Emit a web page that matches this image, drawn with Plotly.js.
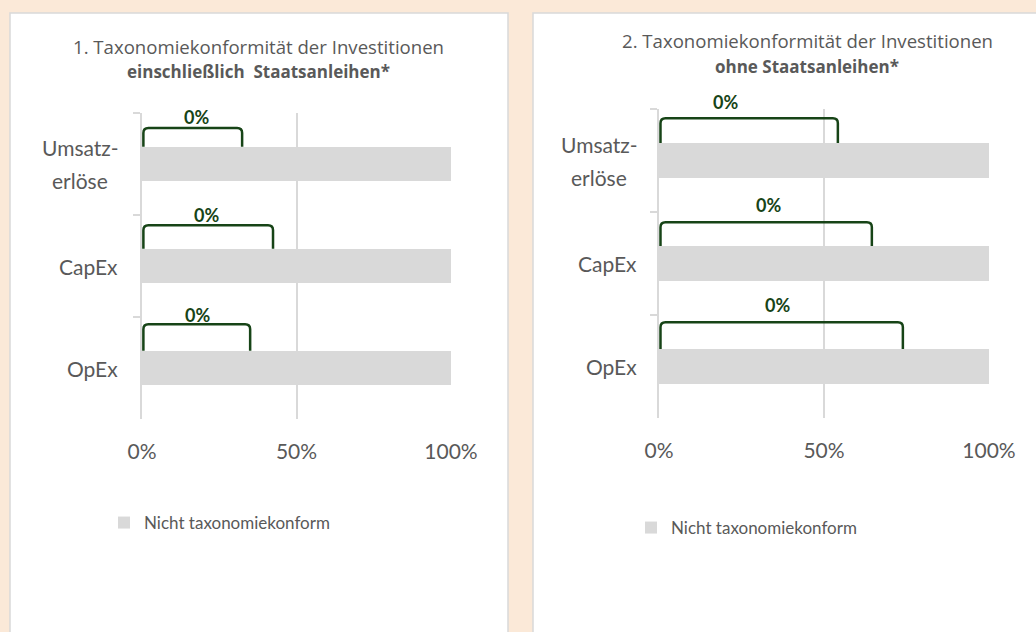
<!DOCTYPE html>
<html><head><meta charset="utf-8">
<script src="https://cdn.plot.ly/plotly-3.0.1.min.js"></script>
<style>html,body{margin:0;padding:0;background:#fbe9d8;}#chart{width:1036px;height:632px;}</style>
</head><body><div id="chart"></div>
<script>
// ---- data ----
const categories = ["Umsatzerlöse", "CapEx", "OpEx"];
const categoryLabels = ["Umsatz-<br>erlöse", "CapEx", "OpEx"];
const panelTitles = ["1. Taxonomiekonformität der Investitionen", "2. Taxonomiekonformität der Investitionen"];
const panelSubtitles = ["einschließlich  Staatsanleihen*", "ohne Staatsanleihen*"];
const seriesNames = ["Taxonomiekonform", "Nicht taxonomiekonform"];
const conformIncl = [0, 0, 0];
const nonConformIncl = [100, 100, 100];
const conformExcl = [0, 0, 0];
const nonConformExcl = [100, 100, 100];
const xTickVals = [0, 50, 100];
const xTickText = ["0%", "50%", "100%"];

// ---- layout constants ----
const W = 1036, H = 632;
const TXT = "#595959", GRID = "#d9d9d9", BAR = "#d9d9d9", GREEN = "#174417", BG = "#fbe9d8";
const FONT = "Lato, 'Open Sans', sans-serif";
const TITLE_FONT = "'Open Sans', Lato, sans-serif";
const BARW = 0.34;
const LABEL_SIZE = 21, LABEL_LINE = 33;
const panels = [
  {box:[10, 13, 508, 660], plotX:[142, 451], plotY:[113, 419], labelRight:118, titleX:258, titleY:[47, 72],
   legendTextX:144, legendY:523,
   calloutEnd:[32.4, 42.4, 35], calloutTop:[-0.353, -0.40, -0.43], labelX:[17.5, 21, 18], labelShift:[11, 10, 9]},
  {box:[533, 13, 1090, 660], plotX:[659, 989], plotY:[109, 418], labelRight:637, titleX:807, titleY:[40, 66],
   legendTextX:671, legendY:528,
   calloutEnd:[54.2, 64.5, 73.9], calloutTop:[-0.41, -0.40, -0.43], labelX:[20, 33.3, 35.8], labelShift:[16, 17, 17]}
];
const conform = [conformIncl, conformExcl];
const nonConform = [nonConformIncl, nonConformExcl];

const ctx = document.createElement("canvas").getContext("2d");
ctx.font = LABEL_SIZE + "px Lato";
const measure = s => ctx.measureText(s).width;

const traces = [];
const shapes = [];
const annotations = [];
const layout = {
  width: W, height: H, margin: {l:0, r:0, t:0, b:0},
  paper_bgcolor: BG, plot_bgcolor: "rgba(0,0,0,0)",
  barmode: "stack", font: {family: FONT, color: TXT},
  showlegend: true
};

panels.forEach((p, k) => {
  const sfx = k === 0 ? "" : "2";
  const xa = "x" + sfx, ya = "y" + sfx;
  const legendName = k === 0 ? "legend" : "legend2";
  // panel box
  shapes.push({type:"rect", xref:"paper", yref:"paper", layer:"below",
    x0:p.box[0]/W, x1:p.box[2]/W, y0:1-p.box[3]/H, y1:1-p.box[1]/H,
    fillcolor:"#ffffff", line:{color:GRID, width:1.5}});
  // bars
  traces.push({type:"bar", orientation:"h", name:seriesNames[0], y:categories, x:conform[k],
    xaxis:xa, yaxis:ya, width:BARW, marker:{color:GREEN, line:{width:0}}, showlegend:false, hoverinfo:"skip"});
  traces.push({type:"bar", orientation:"h", name:seriesNames[1], y:categories, x:nonConform[k],
    xaxis:xa, yaxis:ya, width:BARW, marker:{color:BAR, line:{width:0}}, legend:legendName, hoverinfo:"skip"});
  // axes
  layout["xaxis" + sfx] = {domain:[p.plotX[0]/W, p.plotX[1]/W], anchor:ya, range:[0,100],
    tickvals:xTickVals, ticktext:xTickText, showgrid:true, gridcolor:GRID, gridwidth:2,
    zeroline:false, showline:false, ticks:"", tickfont:{size:21, color:TXT, family:FONT},
    ticklabelstandoff:18, fixedrange:true};
  layout["yaxis" + sfx] = {domain:[1-p.plotY[1]/H, 1-p.plotY[0]/H], anchor:xa, type:"category",
    categoryorder:"array", categoryarray:categories, range:[categories.length-0.5, -0.5],
    showticklabels:false, showgrid:false, zeroline:false, showline:true, linecolor:GRID, linewidth:2,
    ticks:"outside", tickson:"boundaries", ticklen:7, tickcolor:GRID, tickwidth:1.5, fixedrange:true};
  // legend
  layout[legendName] = {x:(p.legendTextX-40)/W, xanchor:"left", y:1-p.legendY/H, yanchor:"middle",
    bgcolor:"rgba(0,0,0,0)", borderwidth:0, itemwidth:30, font:{size:17, color:TXT, family:FONT}};
  // titles
  annotations.push({xref:"paper", yref:"paper", x:p.titleX/W, y:1-p.titleY[0]/H, xanchor:"center", yanchor:"middle",
    text:panelTitles[k], showarrow:false, font:{size:18.6, color:TXT, family:TITLE_FONT}});
  annotations.push({xref:"paper", yref:"paper", x:p.titleX/W, y:1-p.titleY[1]/H, xanchor:"center", yanchor:"middle",
    text:"<b>" + panelSubtitles[k] + "</b>", showarrow:false, font:{size:17, color:TXT, family:TITLE_FONT}});
  // category labels (multi-line labels centred as a block, right-aligned to the axis)
  categories.forEach((c, i) => {
    const lines = categoryLabels[i].split("<br>");
    const maxW = Math.max(...lines.map(measure));
    const cx = p.labelRight - maxW / 2;
    lines.forEach((ln, j) => {
      annotations.push({xref:"paper", yref:ya, x:cx/W, y:i, xanchor:"center", yanchor:"middle",
        yshift:((lines.length-1)/2 - j) * LABEL_LINE,
        text:ln, showarrow:false, font:{size:LABEL_SIZE, color:TXT, family:FONT}});
    });
  });
  // callouts (brackets + value labels)
  const pxPerX = (p.plotX[1]-p.plotX[0]) / 100;
  const pxPerY = (p.plotY[1]-p.plotY[0]) / categories.length;
  const rx = 5 / pxPerX, ry = 5 / pxPerY;
  categories.forEach((c, i) => {
    const x0 = 0.45, x1 = p.calloutEnd[i];
    const yt = i + p.calloutTop[i], yb = i - BARW/2;
    const path = `M${x0},${yb} L${x0},${yt+ry} Q${x0},${yt} ${x0+rx},${yt} L${x1-rx},${yt} Q${x1},${yt} ${x1},${yt+ry} L${x1},${yb}`;
    shapes.push({type:"path", xref:xa, yref:ya, path:path, line:{color:GREEN, width:2.5}, layer:"above"});
    annotations.push({xref:xa, yref:ya, x:p.labelX[i], y:yt, yshift:p.labelShift[i], xanchor:"center", yanchor:"middle",
      text:"<b>" + conform[k][i] + "%</b>", showarrow:false, font:{size:18, color:GREEN, family:FONT}});
  });
});
layout.shapes = shapes;
layout.annotations = annotations;
Plotly.newPlot("chart", traces, layout, {displayModeBar:false, staticPlot:true});
</script>
</body></html>
